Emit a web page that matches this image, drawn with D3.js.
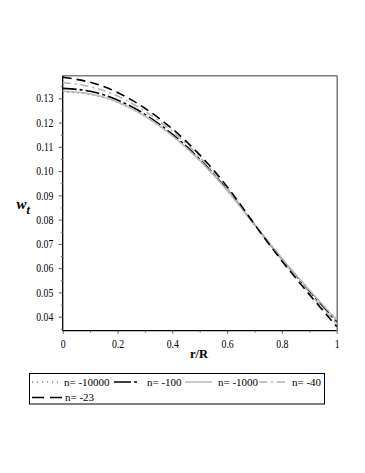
<!DOCTYPE html>
<html><head><meta charset="utf-8">
<script src="https://cdn.jsdelivr.net/npm/d3@7"></script>
<style>
html,body{margin:0;padding:0;background:#fff;}
svg{display:block;}
</style></head>
<body>
<svg id="c" width="365" height="473"></svg>
<script>
const rValues = [0, 0.1, 0.2, 0.3, 0.4, 0.5, 0.6, 0.7, 0.8, 0.9, 1.0];
const seriesNames = ["n= -10000", "n= -100", "n= -1000", "n= -40", "n= -23"];
const w_n10000 = [0.1326,0.1316,0.1283,0.1225,0.1145,0.1043,0.0920,0.0780,0.0641,0.0511,0.0387];
const w_n100   = [0.1341,0.1329,0.1293,0.1234,0.1152,0.1049,0.0924,0.0780,0.0638,0.0506,0.0380];
const w_n1000  = [0.1329,0.1319,0.1285,0.1227,0.1146,0.1044,0.0921,0.0780,0.0640,0.0510,0.0386];
const w_n40    = [0.1365,0.1348,0.1309,0.1247,0.1164,0.1058,0.0930,0.0781,0.0634,0.0499,0.0369];
const w_n23    = [0.1387,0.1366,0.1324,0.1259,0.1174,0.1067,0.0936,0.0781,0.0630,0.0492,0.0359];
const xTicks = [0, 0.2, 0.4, 0.6, 0.8, 1];
const xMinorTicks = [0.1, 0.3, 0.5, 0.7, 0.9];
const yTicks = [0.04,0.05,0.06,0.07,0.08,0.09,0.10,0.11,0.12,0.13];
const yMinorTicks = [0.035,0.045,0.055,0.065,0.075,0.085,0.095,0.105,0.115,0.125,0.135];

const seriesData = [w_n10000, w_n100, w_n1000, w_n40, w_n23];
const styles = [
  {color:"#444", width:1.1, dash:"1.2,3.8"},
  {color:"#000", width:1.6, dash:"14,3,3,3"},
  {color:"#bbb", width:1.6, dash:null},
  {color:"#b4b4b4", width:1.6, dash:"8,4,2,4"},
  {color:"#000", width:1.6, dash:"9,5"}
];

const svg = d3.select("#c");
const L = 62.7, R = 336.7, T = 75.7, B = 330.7;
const x = d3.scaleLinear().domain([0,1]).range([L,R]);
const y = d3.scaleLinear().domain([0.03423, 0.13931]).range([B,T]);

// frame top/right gray
svg.append("line").attr("x1",L).attr("x2",R+0.5).attr("y1",T).attr("y2",T)
  .attr("stroke","#808080").attr("stroke-width",1.6);
svg.append("line").attr("x1",R+0.5).attr("x2",R+0.5).attr("y1",T).attr("y2",B)
  .attr("stroke","#808080").attr("stroke-width",1.6);

const font = "'Liberation Serif','Times New Roman',serif";

// x axis
const gx = svg.append("g").attr("transform",`translate(0,${B})`)
  .call(d3.axisBottom(x).tickValues(xTicks).tickSize(3).tickPadding(6)
        .tickFormat(d => d===0||d===1 ? String(d) : d.toFixed(1)));
gx.select(".domain").attr("stroke","#000").attr("stroke-width",1.3).attr("d",`M${L},0H${R}`);
gx.selectAll(".tick line").attr("stroke","#555");
gx.selectAll("text").attr("font-family",font).attr("font-size",11.5).attr("fill","#000")
  .attr("transform","scale(0.85,1)");
const gxm = svg.append("g").attr("transform",`translate(0,${B})`)
  .call(d3.axisBottom(x).tickValues(xMinorTicks).tickSize(2).tickFormat(""));
gxm.select(".domain").remove();
gxm.selectAll(".tick line").attr("stroke","#777");

// y axis
const gy = svg.append("g").attr("transform",`translate(${L},0)`)
  .call(d3.axisLeft(y).tickValues(yTicks).tickSize(4).tickPadding(5)
        .tickFormat(d3.format(".2f")));
gy.select(".domain").attr("stroke","#000").attr("stroke-width",1.3).attr("d",`M0,${T}V${B}`);
gy.selectAll(".tick line").attr("stroke","#555");
gy.selectAll("text").attr("font-family",font).attr("font-size",11.5).attr("fill","#000")
  .attr("x",0).attr("transform","translate(-9.4,0) scale(0.85,1)");
const gym = svg.append("g").attr("transform",`translate(${L},0)`)
  .call(d3.axisLeft(y).tickValues(yMinorTicks.filter(v=>v>0.0343 && v<0.139)).tickSize(2).tickFormat(""));
gym.select(".domain").remove();
gym.selectAll(".tick line").attr("stroke","#777");

// curves
const line = d3.line().x((d,i)=>x(rValues[i])).y(d=>y(d)).curve(d3.curveNatural);
seriesData.forEach((s,i)=>{
  const st = styles[i];
  const p = svg.append("path").datum(s).attr("d",line).attr("fill","none")
    .attr("stroke",st.color).attr("stroke-width",st.width);
  if(st.dash) p.attr("stroke-dasharray",st.dash);
});

// axis titles
svg.append("text").attr("x",199).attr("y",358).attr("text-anchor","middle")
  .attr("font-family",font).attr("font-weight","bold").attr("font-size",12.5).text("r/R");
const wt = svg.append("text").attr("x",16.5).attr("y",208.5)
  .attr("font-family",font).attr("font-weight","bold").attr("font-style","italic").attr("font-size",15);
wt.append("tspan").text("w");
wt.append("tspan").attr("dy",5.5).attr("font-size",12).text("t");

// legend
const lg = svg.append("g");
lg.append("rect").attr("x",29.5).attr("y",373.5).attr("width",295).attr("height",30.5)
  .attr("fill","none").attr("stroke","#000").attr("stroke-width",1);
const legendPos = [
  {sx:32, ex:58, tx:64, y:382},
  {sx:114, ex:143, tx:147, y:382},
  {sx:185, ex:212, tx:218, y:382},
  {sx:259, ex:286, tx:292, y:382},
  {sx:32, ex:62, tx:65, y:397.5}
];
seriesNames.forEach((name,i)=>{
  const p = legendPos[i], st = styles[i];
  const ln = lg.append("line").attr("x1",p.sx).attr("x2",p.ex).attr("y1",p.y).attr("y2",p.y)
    .attr("stroke",st.color).attr("stroke-width",st.width);
  if(st.dash) ln.attr("stroke-dasharray", i===1 ? "17,3,3,6" : i===4 ? "12,6" : st.dash);
  lg.append("text").attr("x",p.tx).attr("y",p.y+3.5).attr("font-family",font)
    .attr("font-size",11).attr("fill","#000").text(name);
});
</script>
</body></html>
